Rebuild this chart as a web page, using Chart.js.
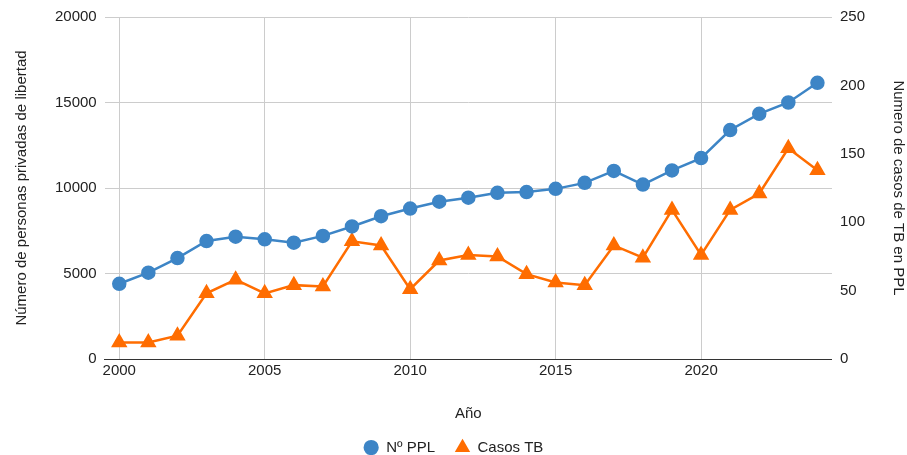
<!DOCTYPE html>
<html>
<head>
<meta charset="utf-8">
<script src="https://cdn.jsdelivr.net/npm/chart.js@4/dist/chart.umd.min.js"></script>
<style>
html,body{margin:0;padding:0;background:#fff;}
#wrap{width:907px;height:455px;position:relative;}
</style>
</head>
<body>
<div id="wrap"><canvas id="c" width="907" height="455"></canvas></div>
<script>
const years = [2000,2001,2002,2003,2004,2005,2006,2007,2008,2009,2010,2011,2012,2013,2014,2015,2016,2017,2018,2019,2020,2021,2022,2023,2024];
const ppl = [4400,5050,5900,6900,7150,7000,6800,7200,7750,8350,8800,9200,9430,9720,9760,9950,10300,11000,10200,11030,11750,13390,14340,15000,16150];
const casosTB = [12,12,17,48,58,48,54,53,86,83,51,72,76,75,62,56,54,83,74,109,76,109,121,154,138];
const xTicks = [2000,2005,2010,2015,2020];
const leftTicks = [0,5000,10000,15000,20000];
const rightTicks = [0,50,100,150,200,250];

const font = {family:"'Liberation Sans', Arial, sans-serif", size:15};
const txt = '#222';
Chart.defaults.font = font;
Chart.defaults.color = txt;

new Chart(document.getElementById('c'), {
  type:'line',
  data:{
    datasets:[
      {label:'Nº PPL', data:years.map((y,i)=>({x:y,y:ppl[i]})), yAxisID:'y',
       borderColor:'#3d85c6', backgroundColor:'#3d85c6', borderWidth:2.5,
       pointStyle:'circle', pointRadius:6, pointHoverRadius:6, tension:0},
      {label:'Casos TB', data:years.map((y,i)=>({x:y,y:casosTB[i]})), yAxisID:'y1',
       borderColor:'#ff6d01', backgroundColor:'#ff6d01', borderWidth:2.5,
       pointStyle:'triangle', pointRadius:7, pointHoverRadius:7, tension:0}
    ]
  },
  options:{
    responsive:false, animation:false,
    layout:{padding:{left:0,right:0,top:14,bottom:-10}},
    plugins:{
      legend:{position:'bottom', labels:{usePointStyle:true, boxWidth:22, boxHeight:9, padding:20, font:font, color:txt}},
      tooltip:{enabled:false}
    },
    scales:{
      x:{type:'linear', min:1999.5, max:2024.5,
         afterBuildTicks:(s)=>{s.ticks=xTicks.map(v=>({value:v}));},
         ticks:{callback:(v)=>String(v), padding:3, font:font, color:txt, maxRotation:0},
         grid:{color:'#cccccc', drawTicks:false, lineWidth:1},
         border:{display:true, color:'#333', width:1},
         title:{display:true, text:'Año', font:font, color:txt, padding:{top:22,bottom:-3}}},
      y:{type:'linear', position:'left', min:0, max:20000,
         afterBuildTicks:(s)=>{s.ticks=leftTicks.map(v=>({value:v}));},
         ticks:{callback:(v)=>String(v), padding:8, font:font, color:txt},
         grid:{color:'#cccccc', drawTicks:false},
         border:{display:false},
         title:{display:true, text:'Número de personas privadas de libertad', font:font, color:txt, padding:{top:13,bottom:16}}},
      y1:{type:'linear', position:'right', min:0, max:250,
         afterBuildTicks:(s)=>{s.ticks=rightTicks.map(v=>({value:v}));},
         ticks:{callback:(v)=>String(v), padding:8, font:font, color:txt},
         grid:{display:false, drawTicks:false},
         border:{display:false},
         title:{display:true, text:'Numero de casos de TB en PPL', font:font, color:txt, padding:{top:0,bottom:16}}}
    }
  }
});
</script>
</body>
</html>
